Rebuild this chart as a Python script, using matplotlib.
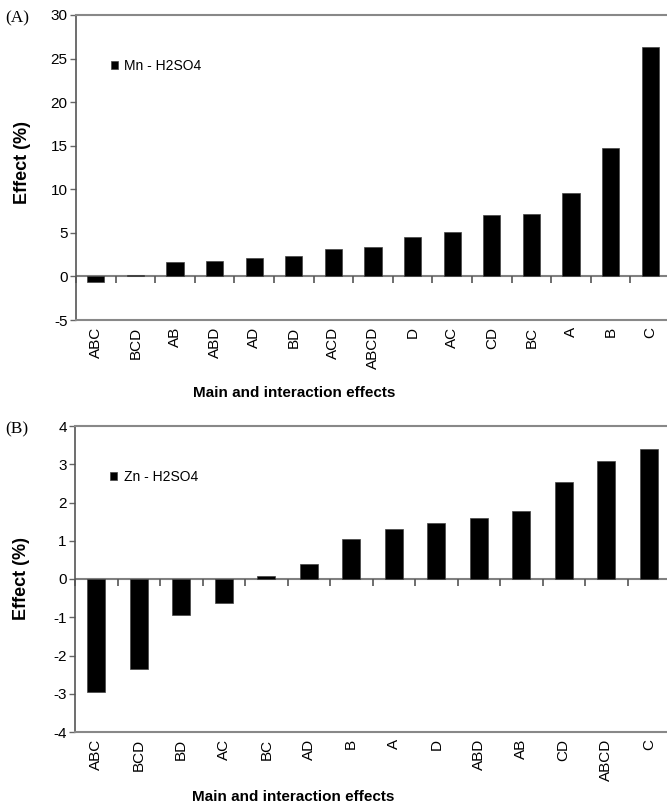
import matplotlib
matplotlib.use("Agg")
import matplotlib.pyplot as plt
from matplotlib import font_manager
from matplotlib.markers import TICKDOWN

# panel A: Mn leaching effects
mn_labels = ["ABC", "BCD", "AB", "ABD", "AD", "BD", "ACD", "ABCD",
             "D", "AC", "CD", "BC", "A", "B", "C"]
mn_values = [-0.6, 0.2, 1.7, 1.8, 2.1, 2.3, 3.2, 3.4,
             4.5, 5.1, 7.0, 7.2, 9.6, 14.7, 26.3]
mn_ticks = [-5, 0, 5, 10, 15, 20, 25, 30]

# panel B: Zn leaching effects
zn_labels = ["ABC", "BCD", "BD", "AC", "BC", "AD", "B", "A",
             "D", "ABD", "AB", "CD", "ABCD", "C"]
zn_values = [-2.95, -2.35, -0.93, -0.63, 0.08, 0.40, 1.04, 1.31,
             1.46, 1.60, 1.77, 2.54, 3.09, 3.40]
zn_ticks = [-4, -3, -2, -1, 0, 1, 2, 3, 4]

names = {f.name for f in font_manager.fontManager.ttflist}
plt.rcParams['font.family'] = ['Liberation Sans', 'DejaVu Sans']
label_font = 'Liberation Sans Narrow' if 'Liberation Sans Narrow' in names else 'Liberation Sans'
label_size = 13 if label_font != 'Liberation Sans' else 11

W, H = 667, 808
fig = plt.figure(figsize=(W / 100, H / 100), dpi=100)


def panel(rect, labels, values, yticks, legend, tag, tag_y, ylab_y, xlab_y):
    ax = fig.add_axes(rect)
    n = len(labels)
    x = list(range(n))
    ax.bar(x, values, width=0.43, color='black', edgecolor='#444444', linewidth=0.5,
           label=legend, zorder=3)
    ax.set_xlim(-0.5, n - 0.5)
    ax.set_ylim(yticks[0], yticks[-1])
    ax.set_yticks(yticks)
    ax.set_yticklabels([str(t) for t in yticks], fontsize=11)
    ax.set_xticks(x)
    ax.set_xticklabels(labels, rotation=90, fontsize=11)
    ax.tick_params(axis='x', length=0, pad=5)
    ax.tick_params(axis='y', length=4, width=1, color='#666666', pad=2)

    for side in ['top', 'bottom']:
        ax.spines[side].set_color('#888888')
        ax.spines[side].set_linewidth(1.5)
    ax.spines['left'].set_color('#555555')
    ax.spines['left'].set_linewidth(1.2)
    ax.spines['right'].set_visible(False)

    # category axis through zero with ticks between categories
    ax.axhline(0, color='#808080', lw=1.5, zorder=2.5)
    bounds = [i - 0.5 for i in range(n)]
    ax.plot(bounds, [0] * n, ls='none', marker=TICKDOWN, ms=5, mew=1.2,
            color='#555555', zorder=4, clip_on=False)

    ax.set_ylabel("Effect (%)", fontsize=13, fontweight='bold')
    ax.yaxis.set_label_coords(-0.09, ylab_y)
    ax.yaxis.label.set_va('center')
    ax.set_xlabel("Main and interaction effects", fontsize=label_size,
                  fontweight='bold', family=[label_font, 'DejaVu Sans'])
    ax.xaxis.set_label_coords((294 - 76) / 594, xlab_y)
    ax.xaxis.label.set_va('center')

    ax.legend(loc='center left', bbox_to_anchor=(0.05, 0.833), frameon=False,
              fontsize=10, handlelength=0.5, handleheight=0.5, handletextpad=0.45,
              borderaxespad=0)
    fig.text(5 / W, 1 - tag_y / H, tag, family=['Liberation Serif', 'DejaVu Serif'],
             fontsize=12.5, va='center', ha='left')
    return ax


panel([76 / W, 1 - 320 / H, 594 / W, 305 / H], mn_labels, mn_values, mn_ticks,
      "Mn - H2SO4", "(A)", 18, 0.515, -0.239)
panel([75 / W, 1 - 732 / H, 595 / W, 306 / H], zn_labels, zn_values, zn_ticks,
      "Zn - H2SO4", "(B)", 429, 0.503, -0.212)

fig.savefig("out.png", dpi=100)
